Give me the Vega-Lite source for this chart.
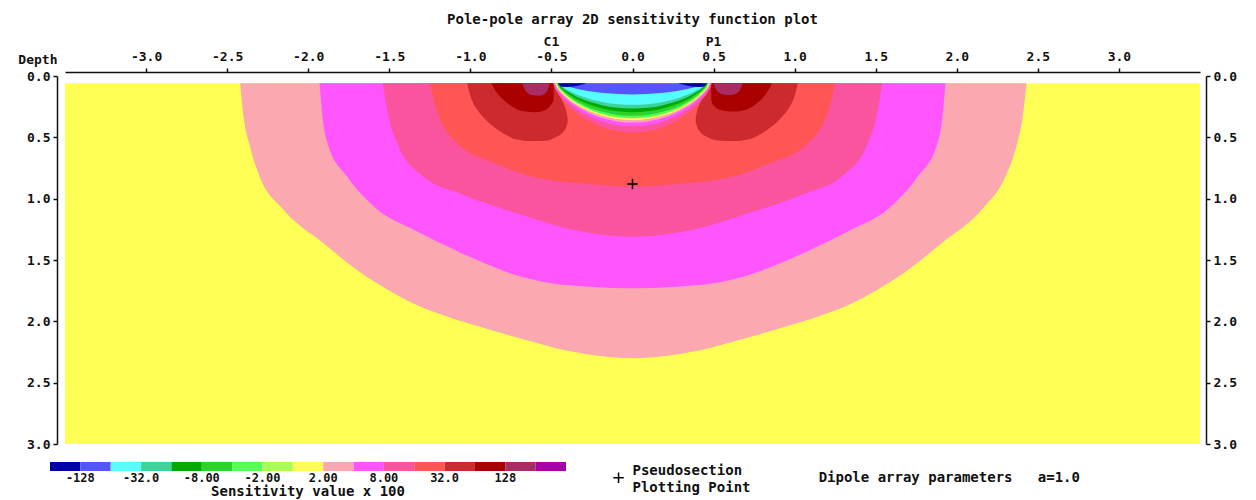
{
  "$schema": "https://vega.github.io/schema/vega-lite/v6.json",
  "width": 1135,
  "height": 368,
  "autosize": {"type": "none"},
  "padding": {"left": 65, "top": 76, "right": 56, "bottom": 56},
  "background": "white",
  "title": {"text": "Pole-pole array 2D sensitivity function plot", "font": "DejaVu Sans Mono", "fontSize": 14, "fontWeight": "bold", "color": "#111", "anchor": "middle", "offset": 9},
  "config": {
    "view": {"stroke": null},
    "axis": {"labelFont": "DejaVu Sans Mono", "labelFontWeight": "bold", "labelFontSize": 13, "labelColor": "#111", "domainColor": "#111", "domainWidth": 1.5, "tickColor": "#111", "tickWidth": 1.5, "tickSize": 4, "grid": false},
    "text": {"font": "DejaVu Sans Mono", "fontWeight": "bold", "fontSize": 14, "color": "#111"}
  },
  "datasets": {
    "regions": [
      {"g":"a","c":9,"x":-3.5,"t":0.06,"b":3},{"g":"a","c":9,"x":3.5,"t":0.06,"b":3},
      {"g":"b","c":10,"x":-2.42,"t":0.06,"b":0.06},{"g":"b","c":10,"x":-2.40,"t":0.06,"b":0.32},{"g":"b","c":10,"x":-2.36,"t":0.06,"b":0.57},{"g":"b","c":10,"x":-2.3,"t":0.06,"b":0.82},{"g":"b","c":10,"x":-2.16,"t":0.06,"b":1.08},{"g":"b","c":10,"x":-1.91,"t":0.06,"b":1.36},{"g":"b","c":10,"x":-1.68,"t":0.06,"b":1.6},{"g":"b","c":10,"x":-1.5,"t":0.06,"b":1.75},{"g":"b","c":10,"x":-1.31,"t":0.06,"b":1.88},{"g":"b","c":10,"x":-1.1,"t":0.06,"b":1.98},{"g":"b","c":10,"x":-0.94,"t":0.06,"b":2.045},{"g":"b","c":10,"x":-0.69,"t":0.06,"b":2.14},{"g":"b","c":10,"x":-0.4,"t":0.06,"b":2.24},{"g":"b","c":10,"x":0,"t":0.06,"b":2.3},{"g":"b","c":10,"x":0.4,"t":0.06,"b":2.24},{"g":"b","c":10,"x":0.69,"t":0.06,"b":2.14},{"g":"b","c":10,"x":0.94,"t":0.06,"b":2.045},{"g":"b","c":10,"x":1.1,"t":0.06,"b":1.98},{"g":"b","c":10,"x":1.31,"t":0.06,"b":1.88},{"g":"b","c":10,"x":1.5,"t":0.06,"b":1.75},{"g":"b","c":10,"x":1.68,"t":0.06,"b":1.6},{"g":"b","c":10,"x":1.91,"t":0.06,"b":1.36},{"g":"b","c":10,"x":2.16,"t":0.06,"b":1.08},{"g":"b","c":10,"x":2.3,"t":0.06,"b":0.82},{"g":"b","c":10,"x":2.37,"t":0.06,"b":0.56},{"g":"b","c":10,"x":2.41,"t":0.06,"b":0.3},{"g":"b","c":10,"x":2.43,"t":0.06,"b":0.06},
      {"g":"m","c":11,"x":-1.93,"t":0.06,"b":0.06},{"g":"m","c":11,"x":-1.91,"t":0.06,"b":0.35},{"g":"m","c":11,"x":-1.88,"t":0.06,"b":0.55},{"g":"m","c":11,"x":-1.76,"t":0.06,"b":0.82},{"g":"m","c":11,"x":-1.58,"t":0.06,"b":1.08},{"g":"m","c":11,"x":-1.34,"t":0.06,"b":1.26},{"g":"m","c":11,"x":-1.06,"t":0.06,"b":1.44},{"g":"m","c":11,"x":-0.94,"t":0.06,"b":1.51},{"g":"m","c":11,"x":-0.69,"t":0.06,"b":1.635},{"g":"m","c":11,"x":-0.5,"t":0.06,"b":1.69},{"g":"m","c":11,"x":-0.25,"t":0.06,"b":1.72},{"g":"m","c":11,"x":0,"t":0.06,"b":1.73},{"g":"m","c":11,"x":0.25,"t":0.06,"b":1.72},{"g":"m","c":11,"x":0.5,"t":0.06,"b":1.69},{"g":"m","c":11,"x":0.69,"t":0.06,"b":1.635},{"g":"m","c":11,"x":0.94,"t":0.06,"b":1.51},{"g":"m","c":11,"x":1.06,"t":0.06,"b":1.44},{"g":"m","c":11,"x":1.34,"t":0.06,"b":1.26},{"g":"m","c":11,"x":1.58,"t":0.06,"b":1.08},{"g":"m","c":11,"x":1.76,"t":0.06,"b":0.82},{"g":"m","c":11,"x":1.88,"t":0.06,"b":0.55},{"g":"m","c":11,"x":1.91,"t":0.06,"b":0.35},{"g":"m","c":11,"x":1.93,"t":0.06,"b":0.06},
      {"g":"h","c":12,"x":-1.54,"t":0.06,"b":0.06},{"g":"h","c":12,"x":-1.51,"t":0.06,"b":0.3},{"g":"h","c":12,"x":-1.45,"t":0.06,"b":0.55},{"g":"h","c":12,"x":-1.29,"t":0.06,"b":0.82},{"g":"h","c":12,"x":-1.06,"t":0.06,"b":0.96},{"g":"h","c":12,"x":-0.69,"t":0.06,"b":1.13},{"g":"h","c":12,"x":-0.35,"t":0.06,"b":1.26},{"g":"h","c":12,"x":0,"t":0.06,"b":1.31},{"g":"h","c":12,"x":0.35,"t":0.06,"b":1.26},{"g":"h","c":12,"x":0.69,"t":0.06,"b":1.13},{"g":"h","c":12,"x":1.06,"t":0.06,"b":0.96},{"g":"h","c":12,"x":1.29,"t":0.06,"b":0.82},{"g":"h","c":12,"x":1.45,"t":0.06,"b":0.55},{"g":"h","c":12,"x":1.51,"t":0.06,"b":0.3},{"g":"h","c":12,"x":1.54,"t":0.06,"b":0.06},
      {"g":"r","c":13,"x":-1.25,"t":0.06,"b":0.06},{"g":"r","c":13,"x":-1.21,"t":0.06,"b":0.27},{"g":"r","c":13,"x":-1.08,"t":0.06,"b":0.55},{"g":"r","c":13,"x":-0.85,"t":0.06,"b":0.71},{"g":"r","c":13,"x":-0.62,"t":0.06,"b":0.82},{"g":"r","c":13,"x":-0.28,"t":0.06,"b":0.88},{"g":"r","c":13,"x":0,"t":0.06,"b":0.9},{"g":"r","c":13,"x":0.28,"t":0.06,"b":0.88},{"g":"r","c":13,"x":0.62,"t":0.06,"b":0.82},{"g":"r","c":13,"x":0.85,"t":0.06,"b":0.71},{"g":"r","c":13,"x":1.08,"t":0.06,"b":0.55},{"g":"r","c":13,"x":1.21,"t":0.06,"b":0.27},{"g":"r","c":13,"x":1.25,"t":0.06,"b":0.06},
      {"g":"lL","c":14,"x":-1.02,"t":0.06,"b":0.06},{"g":"lL","c":14,"x":-1.0,"t":0.06,"b":0.16},{"g":"lL","c":14,"x":-0.96,"t":0.06,"b":0.27},{"g":"lL","c":14,"x":-0.91,"t":0.06,"b":0.35},{"g":"lL","c":14,"x":-0.86,"t":0.06,"b":0.41},{"g":"lL","c":14,"x":-0.78,"t":0.06,"b":0.48},{"g":"lL","c":14,"x":-0.72,"t":0.06,"b":0.515},{"g":"lL","c":14,"x":-0.62,"t":0.06,"b":0.53},{"g":"lL","c":14,"x":-0.52,"t":0.06,"b":0.525},{"g":"lL","c":14,"x":-0.49,"t":0.06,"b":0.51},{"g":"lL","c":14,"x":-0.46,"t":0.13,"b":0.49},{"g":"lL","c":14,"x":-0.43,"t":0.21,"b":0.46},{"g":"lL","c":14,"x":-0.41,"t":0.28,"b":0.42},{"g":"lL","c":14,"x":-0.4,"t":0.34,"b":0.38},
      {"g":"lR","c":14,"x":0.39,"t":0.34,"b":0.38},{"g":"lR","c":14,"x":0.4,"t":0.28,"b":0.42},{"g":"lR","c":14,"x":0.42,"t":0.21,"b":0.46},{"g":"lR","c":14,"x":0.45,"t":0.13,"b":0.49},{"g":"lR","c":14,"x":0.48,"t":0.06,"b":0.51},{"g":"lR","c":14,"x":0.52,"t":0.06,"b":0.525},{"g":"lR","c":14,"x":0.62,"t":0.06,"b":0.53},{"g":"lR","c":14,"x":0.72,"t":0.06,"b":0.515},{"g":"lR","c":14,"x":0.78,"t":0.06,"b":0.48},{"g":"lR","c":14,"x":0.86,"t":0.06,"b":0.41},{"g":"lR","c":14,"x":0.91,"t":0.06,"b":0.35},{"g":"lR","c":14,"x":0.96,"t":0.06,"b":0.27},{"g":"lR","c":14,"x":1.0,"t":0.06,"b":0.16},{"g":"lR","c":14,"x":1.02,"t":0.06,"b":0.06},
      {"g":"dL","c":15,"x":-0.87,"t":0.06,"b":0.06},{"g":"dL","c":15,"x":-0.84,"t":0.06,"b":0.13},{"g":"dL","c":15,"x":-0.8,"t":0.06,"b":0.19},{"g":"dL","c":15,"x":-0.74,"t":0.06,"b":0.25},{"g":"dL","c":15,"x":-0.68,"t":0.06,"b":0.285},{"g":"dL","c":15,"x":-0.6,"t":0.06,"b":0.295},{"g":"dL","c":15,"x":-0.54,"t":0.06,"b":0.28},{"g":"dL","c":15,"x":-0.5,"t":0.06,"b":0.23},{"g":"dL","c":15,"x":-0.488,"t":0.06,"b":0.2},{"g":"dL","c":15,"x":-0.485,"t":0.06,"b":0.06},
      {"g":"dR","c":15,"x":0.485,"t":0.06,"b":0.06},{"g":"dR","c":15,"x":0.487,"t":0.06,"b":0.2},{"g":"dR","c":15,"x":0.5,"t":0.06,"b":0.24},{"g":"dR","c":15,"x":0.55,"t":0.06,"b":0.28},{"g":"dR","c":15,"x":0.62,"t":0.06,"b":0.29},{"g":"dR","c":15,"x":0.7,"t":0.06,"b":0.275},{"g":"dR","c":15,"x":0.76,"t":0.06,"b":0.23},{"g":"dR","c":15,"x":0.81,"t":0.06,"b":0.17},{"g":"dR","c":15,"x":0.84,"t":0.06,"b":0.11},{"g":"dR","c":15,"x":0.86,"t":0.06,"b":0.06},
      {"g":"pL","c":16,"x":-0.68,"t":0.06,"b":0.06},{"g":"pL","c":16,"x":-0.66,"t":0.06,"b":0.12},{"g":"pL","c":16,"x":-0.62,"t":0.06,"b":0.155},{"g":"pL","c":16,"x":-0.57,"t":0.06,"b":0.16},{"g":"pL","c":16,"x":-0.53,"t":0.06,"b":0.13},{"g":"pL","c":16,"x":-0.51,"t":0.06,"b":0.06},
      {"g":"pR","c":16,"x":0.5,"t":0.06,"b":0.06},{"g":"pR","c":16,"x":0.52,"t":0.06,"b":0.12},{"g":"pR","c":16,"x":0.56,"t":0.06,"b":0.15},{"g":"pR","c":16,"x":0.61,"t":0.06,"b":0.155},{"g":"pR","c":16,"x":0.66,"t":0.06,"b":0.12},{"g":"pR","c":16,"x":0.68,"t":0.06,"b":0.06},
      {"g":"w12","c":12,"x":-0.49,"t":0.06,"b":0.06},{"g":"w12","c":12,"x":-0.48,"t":0.06,"b":0.096},{"g":"w12","c":12,"x":-0.461,"t":0.06,"b":0.14},{"g":"w12","c":12,"x":-0.431,"t":0.06,"b":0.191},{"g":"w12","c":12,"x":-0.392,"t":0.06,"b":0.246},{"g":"w12","c":12,"x":-0.343,"t":0.06,"b":0.301},{"g":"w12","c":12,"x":-0.27,"t":0.06,"b":0.365},{"g":"w12","c":12,"x":-0.196,"t":0.06,"b":0.411},{"g":"w12","c":12,"x":-0.098,"t":0.06,"b":0.448},{"g":"w12","c":12,"x":0,"t":0.06,"b":0.46},{"g":"w12","c":12,"x":0.098,"t":0.06,"b":0.448},{"g":"w12","c":12,"x":0.196,"t":0.06,"b":0.411},{"g":"w12","c":12,"x":0.27,"t":0.06,"b":0.365},{"g":"w12","c":12,"x":0.343,"t":0.06,"b":0.301},{"g":"w12","c":12,"x":0.392,"t":0.06,"b":0.246},{"g":"w12","c":12,"x":0.431,"t":0.06,"b":0.191},{"g":"w12","c":12,"x":0.461,"t":0.06,"b":0.14},{"g":"w12","c":12,"x":0.48,"t":0.06,"b":0.096},{"g":"w12","c":12,"x":0.49,"t":0.06,"b":0.06},
      {"g":"w11","c":11,"x":-0.485,"t":0.06,"b":0.06},{"g":"w11","c":11,"x":-0.475,"t":0.06,"b":0.091},{"g":"w11","c":11,"x":-0.456,"t":0.06,"b":0.13},{"g":"w11","c":11,"x":-0.427,"t":0.06,"b":0.174},{"g":"w11","c":11,"x":-0.388,"t":0.06,"b":0.223},{"g":"w11","c":11,"x":-0.34,"t":0.06,"b":0.271},{"g":"w11","c":11,"x":-0.267,"t":0.06,"b":0.327},{"g":"w11","c":11,"x":-0.194,"t":0.06,"b":0.367},{"g":"w11","c":11,"x":-0.097,"t":0.06,"b":0.4},{"g":"w11","c":11,"x":0,"t":0.06,"b":0.41},{"g":"w11","c":11,"x":0.097,"t":0.06,"b":0.4},{"g":"w11","c":11,"x":0.194,"t":0.06,"b":0.367},{"g":"w11","c":11,"x":0.267,"t":0.06,"b":0.327},{"g":"w11","c":11,"x":0.34,"t":0.06,"b":0.271},{"g":"w11","c":11,"x":0.388,"t":0.06,"b":0.223},{"g":"w11","c":11,"x":0.427,"t":0.06,"b":0.174},{"g":"w11","c":11,"x":0.456,"t":0.06,"b":0.13},{"g":"w11","c":11,"x":0.475,"t":0.06,"b":0.091},{"g":"w11","c":11,"x":0.485,"t":0.06,"b":0.06},
      {"g":"w10","c":10,"x":-0.48,"t":0.06,"b":0.06},{"g":"w10","c":10,"x":-0.47,"t":0.06,"b":0.088},{"g":"w10","c":10,"x":-0.451,"t":0.06,"b":0.124},{"g":"w10","c":10,"x":-0.422,"t":0.06,"b":0.165},{"g":"w10","c":10,"x":-0.384,"t":0.06,"b":0.209},{"g":"w10","c":10,"x":-0.336,"t":0.06,"b":0.253},{"g":"w10","c":10,"x":-0.264,"t":0.06,"b":0.304},{"g":"w10","c":10,"x":-0.192,"t":0.06,"b":0.341},{"g":"w10","c":10,"x":-0.096,"t":0.06,"b":0.37},{"g":"w10","c":10,"x":0,"t":0.06,"b":0.38},{"g":"w10","c":10,"x":0.096,"t":0.06,"b":0.37},{"g":"w10","c":10,"x":0.192,"t":0.06,"b":0.341},{"g":"w10","c":10,"x":0.264,"t":0.06,"b":0.304},{"g":"w10","c":10,"x":0.336,"t":0.06,"b":0.253},{"g":"w10","c":10,"x":0.384,"t":0.06,"b":0.209},{"g":"w10","c":10,"x":0.422,"t":0.06,"b":0.165},{"g":"w10","c":10,"x":0.451,"t":0.06,"b":0.124},{"g":"w10","c":10,"x":0.47,"t":0.06,"b":0.088},{"g":"w10","c":10,"x":0.48,"t":0.06,"b":0.06},
      {"g":"w9","c":9,"x":-0.475,"t":0.06,"b":0.06},{"g":"w9","c":9,"x":-0.466,"t":0.06,"b":0.087},{"g":"w9","c":9,"x":-0.447,"t":0.06,"b":0.12},{"g":"w9","c":9,"x":-0.418,"t":0.06,"b":0.158},{"g":"w9","c":9,"x":-0.38,"t":0.06,"b":0.2},{"g":"w9","c":9,"x":-0.333,"t":0.06,"b":0.241},{"g":"w9","c":9,"x":-0.261,"t":0.06,"b":0.289},{"g":"w9","c":9,"x":-0.19,"t":0.06,"b":0.323},{"g":"w9","c":9,"x":-0.095,"t":0.06,"b":0.351},{"g":"w9","c":9,"x":0,"t":0.06,"b":0.36},{"g":"w9","c":9,"x":0.095,"t":0.06,"b":0.351},{"g":"w9","c":9,"x":0.19,"t":0.06,"b":0.323},{"g":"w9","c":9,"x":0.261,"t":0.06,"b":0.289},{"g":"w9","c":9,"x":0.333,"t":0.06,"b":0.241},{"g":"w9","c":9,"x":0.38,"t":0.06,"b":0.2},{"g":"w9","c":9,"x":0.418,"t":0.06,"b":0.158},{"g":"w9","c":9,"x":0.447,"t":0.06,"b":0.12},{"g":"w9","c":9,"x":0.466,"t":0.06,"b":0.087},{"g":"w9","c":9,"x":0.475,"t":0.06,"b":0.06},
      {"g":"w7","c":7,"x":-0.47,"t":0.06,"b":0.06},{"g":"w7","c":7,"x":-0.461,"t":0.06,"b":0.085},{"g":"w7","c":7,"x":-0.442,"t":0.06,"b":0.117},{"g":"w7","c":7,"x":-0.414,"t":0.06,"b":0.153},{"g":"w7","c":7,"x":-0.376,"t":0.06,"b":0.193},{"g":"w7","c":7,"x":-0.329,"t":0.06,"b":0.232},{"g":"w7","c":7,"x":-0.259,"t":0.06,"b":0.277},{"g":"w7","c":7,"x":-0.188,"t":0.06,"b":0.31},{"g":"w7","c":7,"x":-0.094,"t":0.06,"b":0.336},{"g":"w7","c":7,"x":0,"t":0.06,"b":0.345},{"g":"w7","c":7,"x":0.094,"t":0.06,"b":0.336},{"g":"w7","c":7,"x":0.188,"t":0.06,"b":0.31},{"g":"w7","c":7,"x":0.259,"t":0.06,"b":0.277},{"g":"w7","c":7,"x":0.329,"t":0.06,"b":0.232},{"g":"w7","c":7,"x":0.376,"t":0.06,"b":0.193},{"g":"w7","c":7,"x":0.414,"t":0.06,"b":0.153},{"g":"w7","c":7,"x":0.442,"t":0.06,"b":0.117},{"g":"w7","c":7,"x":0.461,"t":0.06,"b":0.085},{"g":"w7","c":7,"x":0.47,"t":0.06,"b":0.06},
      {"g":"w6","c":6,"x":-0.465,"t":0.06,"b":0.06},{"g":"w6","c":6,"x":-0.456,"t":0.06,"b":0.084},{"g":"w6","c":6,"x":-0.437,"t":0.06,"b":0.113},{"g":"w6","c":6,"x":-0.409,"t":0.06,"b":0.147},{"g":"w6","c":6,"x":-0.372,"t":0.06,"b":0.183},{"g":"w6","c":6,"x":-0.326,"t":0.06,"b":0.22},{"g":"w6","c":6,"x":-0.256,"t":0.06,"b":0.262},{"g":"w6","c":6,"x":-0.186,"t":0.06,"b":0.292},{"g":"w6","c":6,"x":-0.093,"t":0.06,"b":0.317},{"g":"w6","c":6,"x":0,"t":0.06,"b":0.325},{"g":"w6","c":6,"x":0.093,"t":0.06,"b":0.317},{"g":"w6","c":6,"x":0.186,"t":0.06,"b":0.292},{"g":"w6","c":6,"x":0.256,"t":0.06,"b":0.262},{"g":"w6","c":6,"x":0.326,"t":0.06,"b":0.22},{"g":"w6","c":6,"x":0.372,"t":0.06,"b":0.183},{"g":"w6","c":6,"x":0.409,"t":0.06,"b":0.147},{"g":"w6","c":6,"x":0.437,"t":0.06,"b":0.113},{"g":"w6","c":6,"x":0.456,"t":0.06,"b":0.084},{"g":"w6","c":6,"x":0.465,"t":0.06,"b":0.06},
      {"g":"w5","c":5,"x":-0.46,"t":0.06,"b":0.06},{"g":"w5","c":5,"x":-0.451,"t":0.06,"b":0.081},{"g":"w5","c":5,"x":-0.432,"t":0.06,"b":0.107},{"g":"w5","c":5,"x":-0.405,"t":0.06,"b":0.137},{"g":"w5","c":5,"x":-0.368,"t":0.06,"b":0.169},{"g":"w5","c":5,"x":-0.322,"t":0.06,"b":0.202},{"g":"w5","c":5,"x":-0.253,"t":0.06,"b":0.239},{"g":"w5","c":5,"x":-0.184,"t":0.06,"b":0.266},{"g":"w5","c":5,"x":-0.092,"t":0.06,"b":0.288},{"g":"w5","c":5,"x":0,"t":0.06,"b":0.295},{"g":"w5","c":5,"x":0.092,"t":0.06,"b":0.288},{"g":"w5","c":5,"x":0.184,"t":0.06,"b":0.266},{"g":"w5","c":5,"x":0.253,"t":0.06,"b":0.239},{"g":"w5","c":5,"x":0.322,"t":0.06,"b":0.202},{"g":"w5","c":5,"x":0.368,"t":0.06,"b":0.169},{"g":"w5","c":5,"x":0.405,"t":0.06,"b":0.137},{"g":"w5","c":5,"x":0.432,"t":0.06,"b":0.107},{"g":"w5","c":5,"x":0.451,"t":0.06,"b":0.081},{"g":"w5","c":5,"x":0.46,"t":0.06,"b":0.06},
      {"g":"w4","c":4,"x":-0.455,"t":0.06,"b":0.06},{"g":"w4","c":4,"x":-0.446,"t":0.06,"b":0.078},{"g":"w4","c":4,"x":-0.428,"t":0.06,"b":0.101},{"g":"w4","c":4,"x":-0.4,"t":0.06,"b":0.127},{"g":"w4","c":4,"x":-0.364,"t":0.06,"b":0.155},{"g":"w4","c":4,"x":-0.319,"t":0.06,"b":0.184},{"g":"w4","c":4,"x":-0.25,"t":0.06,"b":0.216},{"g":"w4","c":4,"x":-0.182,"t":0.06,"b":0.24},{"g":"w4","c":4,"x":-0.091,"t":0.06,"b":0.259},{"g":"w4","c":4,"x":0,"t":0.06,"b":0.265},{"g":"w4","c":4,"x":0.091,"t":0.06,"b":0.259},{"g":"w4","c":4,"x":0.182,"t":0.06,"b":0.24},{"g":"w4","c":4,"x":0.25,"t":0.06,"b":0.216},{"g":"w4","c":4,"x":0.319,"t":0.06,"b":0.184},{"g":"w4","c":4,"x":0.364,"t":0.06,"b":0.155},{"g":"w4","c":4,"x":0.4,"t":0.06,"b":0.127},{"g":"w4","c":4,"x":0.428,"t":0.06,"b":0.101},{"g":"w4","c":4,"x":0.446,"t":0.06,"b":0.078},{"g":"w4","c":4,"x":0.455,"t":0.06,"b":0.06},
      {"g":"w3","c":3,"x":-0.45,"t":0.06,"b":0.06},{"g":"w3","c":3,"x":-0.441,"t":0.06,"b":0.076},{"g":"w3","c":3,"x":-0.423,"t":0.06,"b":0.095},{"g":"w3","c":3,"x":-0.396,"t":0.06,"b":0.117},{"g":"w3","c":3,"x":-0.36,"t":0.06,"b":0.141},{"g":"w3","c":3,"x":-0.315,"t":0.06,"b":0.166},{"g":"w3","c":3,"x":-0.248,"t":0.06,"b":0.194},{"g":"w3","c":3,"x":-0.18,"t":0.06,"b":0.213},{"g":"w3","c":3,"x":-0.09,"t":0.06,"b":0.23},{"g":"w3","c":3,"x":0,"t":0.06,"b":0.235},{"g":"w3","c":3,"x":0.09,"t":0.06,"b":0.23},{"g":"w3","c":3,"x":0.18,"t":0.06,"b":0.213},{"g":"w3","c":3,"x":0.248,"t":0.06,"b":0.194},{"g":"w3","c":3,"x":0.315,"t":0.06,"b":0.166},{"g":"w3","c":3,"x":0.36,"t":0.06,"b":0.141},{"g":"w3","c":3,"x":0.396,"t":0.06,"b":0.117},{"g":"w3","c":3,"x":0.423,"t":0.06,"b":0.095},{"g":"w3","c":3,"x":0.441,"t":0.06,"b":0.076},{"g":"w3","c":3,"x":0.45,"t":0.06,"b":0.06},
      {"g":"w2","c":2,"x":-0.44,"t":0.06,"b":0.06},{"g":"w2","c":2,"x":-0.431,"t":0.06,"b":0.068},{"g":"w2","c":2,"x":-0.414,"t":0.06,"b":0.078},{"g":"w2","c":2,"x":-0.387,"t":0.06,"b":0.089},{"g":"w2","c":2,"x":-0.352,"t":0.06,"b":0.102},{"g":"w2","c":2,"x":-0.308,"t":0.06,"b":0.114},{"g":"w2","c":2,"x":-0.242,"t":0.06,"b":0.129},{"g":"w2","c":2,"x":-0.176,"t":0.06,"b":0.139},{"g":"w2","c":2,"x":-0.088,"t":0.06,"b":0.147},{"g":"w2","c":2,"x":0,"t":0.06,"b":0.15},{"g":"w2","c":2,"x":0.088,"t":0.06,"b":0.147},{"g":"w2","c":2,"x":0.176,"t":0.06,"b":0.139},{"g":"w2","c":2,"x":0.242,"t":0.06,"b":0.129},{"g":"w2","c":2,"x":0.308,"t":0.06,"b":0.114},{"g":"w2","c":2,"x":0.352,"t":0.06,"b":0.102},{"g":"w2","c":2,"x":0.387,"t":0.06,"b":0.089},{"g":"w2","c":2,"x":0.414,"t":0.06,"b":0.078},{"g":"w2","c":2,"x":0.431,"t":0.06,"b":0.068},{"g":"w2","c":2,"x":0.44,"t":0.06,"b":0.06},
      {"g":"kL","c":1,"x":-0.46,"t":0.06,"b":0.06},{"g":"kL","c":1,"x":-0.44,"t":0.06,"b":0.085},{"g":"kL","c":1,"x":-0.4,"t":0.06,"b":0.09},{"g":"kL","c":1,"x":-0.34,"t":0.06,"b":0.08},{"g":"kL","c":1,"x":-0.28,"t":0.06,"b":0.06},
      {"g":"kR","c":1,"x":0.28,"t":0.06,"b":0.06},{"g":"kR","c":1,"x":0.34,"t":0.06,"b":0.08},{"g":"kR","c":1,"x":0.4,"t":0.06,"b":0.09},{"g":"kR","c":1,"x":0.44,"t":0.06,"b":0.085},{"g":"kR","c":1,"x":0.46,"t":0.06,"b":0.06}
    ],
    "pt": [{"x": 0, "d": 0.88}],
    "elec": [{"x": -0.5, "n": "C1"}, {"x": 0.5, "n": "P1"}]
  },
  "layer": [
    {
      "data": {"name": "regions"},
      "mark": {"type": "area", "interpolate": "monotone"},
      "encoding": {
        "x": {"field": "x", "type": "quantitative", "scale": {"domain": [-3.5, 3.5], "nice": false, "zero": false},
              "axis": {"orient": "top", "offset": 4, "title": null, "values": [-3, -2.5, -2, -1.5, -1, -0.5, 0, 0.5, 1, 1.5, 2, 2.5, 3], "labelExpr": "replace(format(datum.value, '.1f'), '\u2212', '-')", "labelPadding": 5, "labelFlush": false}},
        "y": {"field": "t", "type": "quantitative", "scale": {"domain": [0, 3], "reverse": true, "nice": false, "zero": false},
              "axis": {"orient": "left", "offset": 8, "values": [0, 0.5, 1, 1.5, 2, 2.5, 3], "format": ".1f", "labelPadding": 3, "title": "Depth", "titleAngle": 0, "titleAlign": "right", "titleBaseline": "middle", "titleX": 0, "titleY": -17, "titleFont": "DejaVu Sans Mono", "titleFontSize": 13, "titleFontWeight": "bold", "titleColor": "#111"}},
        "y2": {"field": "b"},
        "color": {"field": "c", "type": "quantitative",
                  "scale": {"type": "threshold", "domain": [1.5, 2.5, 3.5, 4.5, 5.5, 6.5, 7.5, 8.5, 9.5, 10.5, 11.5, 12.5, 13.5, 14.5, 15.5, 16.5],
                            "range": ["#0000aa", "#5555ff", "#55ffff", "#3dd39a", "#00aa00", "#2ad42a", "#55ff55", "#aaff55", "#ffff55", "#fba8b0", "#ff55ff", "#fa549e", "#ff5555", "#cc2a2e", "#aa0000", "#a82d62", "#aa00aa"]},
                  "legend": {"type": "gradient", "orient": "none", "legendX": -15, "legendY": 386, "direction": "horizontal", "gradientLength": 516, "gradientThickness": 9, "gradientStrokeWidth": 0,
                             "title": "Sensitivity value x 100", "titleOrient": "bottom", "titleAnchor": "middle", "titlePadding": 1, "titleLimit": 500, "titleFont": "DejaVu Sans Mono", "titleFontSize": 14, "titleFontWeight": "bold", "titleColor": "#111",
                             "labelFont": "DejaVu Sans Mono", "labelFontSize": 12, "labelFontWeight": "bold", "labelColor": "#111", "labelOverlap": false, "labelOffset": 2,
                             "labelExpr": "['-128','','-32.0','','-8.00','','-2.00','','2.00','','8.00','','32.0','','128',''][round(datum.value - 1.5)]"}},
        "detail": {"field": "g"}
      }
    },
    {
      "data": {"name": "pt"},
      "mark": {"type": "point", "shape": "M-1,0L1,0M0,-1L0,1", "size": 110, "stroke": "#000", "strokeWidth": 1.5, "filled": false, "opacity": 1},
      "encoding": {
        "x": {"field": "x", "type": "quantitative"},
        "y": {"field": "d", "type": "quantitative", "axis": {"orient": "right", "offset": 6, "values": [0, 0.5, 1, 1.5, 2, 2.5, 3], "format": ".1f", "labelPadding": 3, "title": null}}
      }
    },
    {
      "data": {"name": "elec"},
      "mark": {"type": "text", "baseline": "middle", "align": "center", "fontSize": 13},
      "encoding": {
        "x": {"field": "x", "type": "quantitative"},
        "y": {"datum": -0.28, "type": "quantitative", "axis": null},
        "text": {"field": "n"}
      }
    },
    {
      "data": {"values": [{}]},
      "mark": {"type": "point", "shape": "M-1,0L1,0M0,-1L0,1", "size": 110, "stroke": "#000", "strokeWidth": 1.5, "filled": false, "opacity": 1},
      "encoding": {
        "x": {"datum": -0.086, "type": "quantitative"},
        "y": {"datum": 3.276, "type": "quantitative", "axis": null}
      }
    },
    {
      "data": {"values": [{}]},
      "mark": {"type": "text", "align": "left", "baseline": "middle", "lineHeight": 17, "text": ["Pseudosection", "Plotting Point"]},
      "encoding": {
        "x": {"datum": 0.0, "type": "quantitative"},
        "y": {"datum": 3.22, "type": "quantitative", "axis": null}
      }
    },
    {
      "data": {"values": [{}]},
      "mark": {"type": "text", "align": "left", "baseline": "middle", "text": "Dipole array parameters\u00a0\u00a0\u00a0a=1.0"},
      "encoding": {
        "x": {"datum": 1.148, "type": "quantitative"},
        "y": {"datum": 3.276, "type": "quantitative", "axis": null}
      }
    }
  ],
  "resolve": {"axis": {"y": "independent"}}
}
